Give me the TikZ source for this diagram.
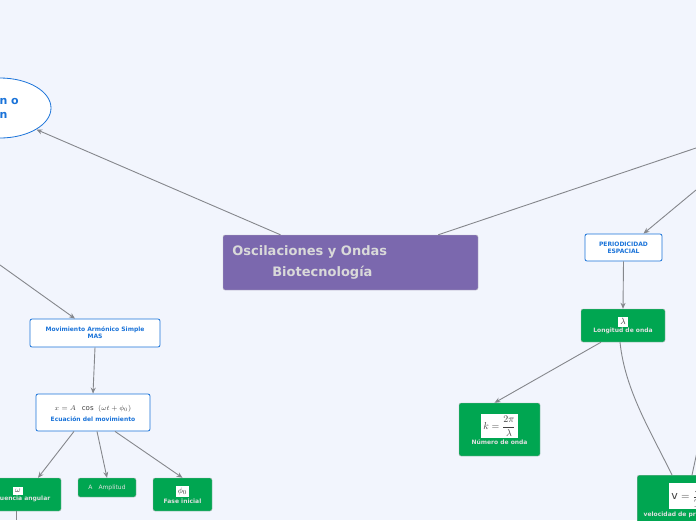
\documentclass[tikz,border=0pt]{standalone}
\usepackage{fontspec}
\setmainfont{DejaVu Sans}
\usetikzlibrary{shapes.geometric,positioning,arrows.meta}
\definecolor{bgblue}{HTML}{F2F5FD}
\definecolor{mapblue}{HTML}{1A73D9}
\definecolor{mapgreen}{HTML}{00A651}
\definecolor{mappurple}{HTML}{7B68AE}
\definecolor{linegray}{HTML}{85878C}
\newcommand{\mathbox}[2]{{\setlength{\fboxsep}{2pt}\colorbox{white}{\color{black!75}\fontsize{#1}{#1}\selectfont$#2$}}}
\tikzset{
    linksty/.style={draw=linegray,line width=0.9pt},
    arrsty/.style={linksty,-{Stealth[length=6pt,width=5pt]}},
    topicsty/.style={draw=mapblue,fill=white,rounded corners=2pt,line width=0.8pt,text=mapblue,font=\bfseries\fontsize{6}{7}\selectfont,align=center,inner sep=2pt},
    greensty/.style={draw=gray!60,fill=mapgreen,rounded corners=2pt,text=white!88!black,font=\bfseries\fontsize{6}{7}\selectfont,align=center,inner sep=2pt},
}
\begin{document}
\begin{tikzpicture}[x=1pt,y=-1pt]
  \fill[bgblue] (0,0) rectangle (696,520);
  \clip (0,0) rectangle (696,520);
  % central topic
  \node[fill=mappurple,draw=gray!50,rounded corners=2pt,minimum width=255pt,minimum height=55pt] (main) at (350.5,262.5) {};
  \node[text=white!85!black,font=\bfseries\fontsize{13}{21}\selectfont,align=left,anchor=west] (maintxt) at ([xshift=6pt]main.west) {Oscilaciones y Ondas\\\hspace*{40pt}Biotecnología};
  \node[ellipse,draw=mapblue,fill=white,line width=0.8pt,minimum width=102pt,minimum height=60pt] (func) at (0,108) {};
  \node[text=mapblue,font=\bfseries\fontsize{11}{14}\selectfont,align=left,anchor=west] (functxt) at (-4,108) {n o\\n};
  \coordinate (offleft) at (0,265);
  \coordinate (offright) at (696,148);
  \coordinate (offright2) at (696,190);
  \coordinate (offbottom) at (16,520);
  \coordinate (offvel) at (697,452);
  % left branch
  \node[topicsty,minimum width=130pt,minimum height=28pt] (mas) at (95,333) {Movimiento Armónico Simple\\MAS};
  \node[topicsty,minimum width=114pt,minimum height=37pt] (ecu) at (93,412.5) {\mathbox{7}{x=A\;\;\cos\;\;(\omega t+\phi_0)}\\[1pt]Ecuación del movimiento};
  \node[greensty,minimum width=86pt,minimum height=33pt] (omega) at (18,494.5) {\mathbox{8}{\omega}\\[1pt]Frecuencia angular};
  \node[greensty,minimum width=58pt,minimum height=19pt,font=\fontsize{6}{7}\selectfont] (ampl) at (107,487.5) {A\quad Amplitud};
  \node[greensty,minimum width=59pt,minimum height=33pt] (fase) at (182.5,494.5) {\mathbox{8}{\phi_0}\\[1pt]Fase inicial};
  % right branch
  \node[topicsty,minimum width=77pt,minimum height=27pt] (peri) at (623.5,247.5) {PERIODICIDAD\\ESPACIAL};
  \node[greensty,minimum width=84pt,minimum height=33pt] (lambda) at (623,325.5) {\mathbox{9}{\lambda}\\[1pt]Longitud de onda};
  \node[greensty,minimum width=81pt,minimum height=53pt] (numk) at (499.5,429.5) {\mathbox{10}{\displaystyle k=\frac{2\pi}{\lambda}}\\[1pt]Número de onda};
  \node[greensty,minimum width=100pt,minimum height=50pt,anchor=north west] (vel) at (637,475) {\mathbox{11}{\displaystyle\mathrm{v}=\frac{\lambda}{T}}\\[1pt]velocidad de propagación};
  % connectors
  \draw[arrsty] ([xshift=-70pt]main.north) -- (func.south east);
  \draw[linksty] ([xshift=-40pt]main.north east) -- (offright);
  \draw[arrsty] (offleft) -- ([xshift=-20pt]mas.north);
  \draw[arrsty] (mas.south) -- (ecu.north);
  \draw[arrsty] ([xshift=-19pt]ecu.south) -- ([xshift=20pt]omega.north);
  \draw[arrsty] ([xshift=4pt]ecu.south) -- (ampl.north);
  \draw[arrsty] ([xshift=22pt]ecu.south) -- (fase.north);
  \draw[linksty] ([xshift=-2pt]omega.south) -- (offbottom);
  \draw[arrsty] (offright2) -- ([xshift=20pt]peri.north);
  \draw[arrsty] (peri.south) -- (lambda.north);
  \draw[arrsty] ([xshift=-22pt]lambda.south) -- ([xshift=-5pt]numk.north);
  \draw[linksty] ([xshift=-3pt]lambda.south) .. controls (625,390) and (650,430) .. ([xshift=35pt]vel.north west);
  \draw[linksty] ([xshift=55pt]vel.north west) -- (offvel);
\end{tikzpicture}
\end{document}
